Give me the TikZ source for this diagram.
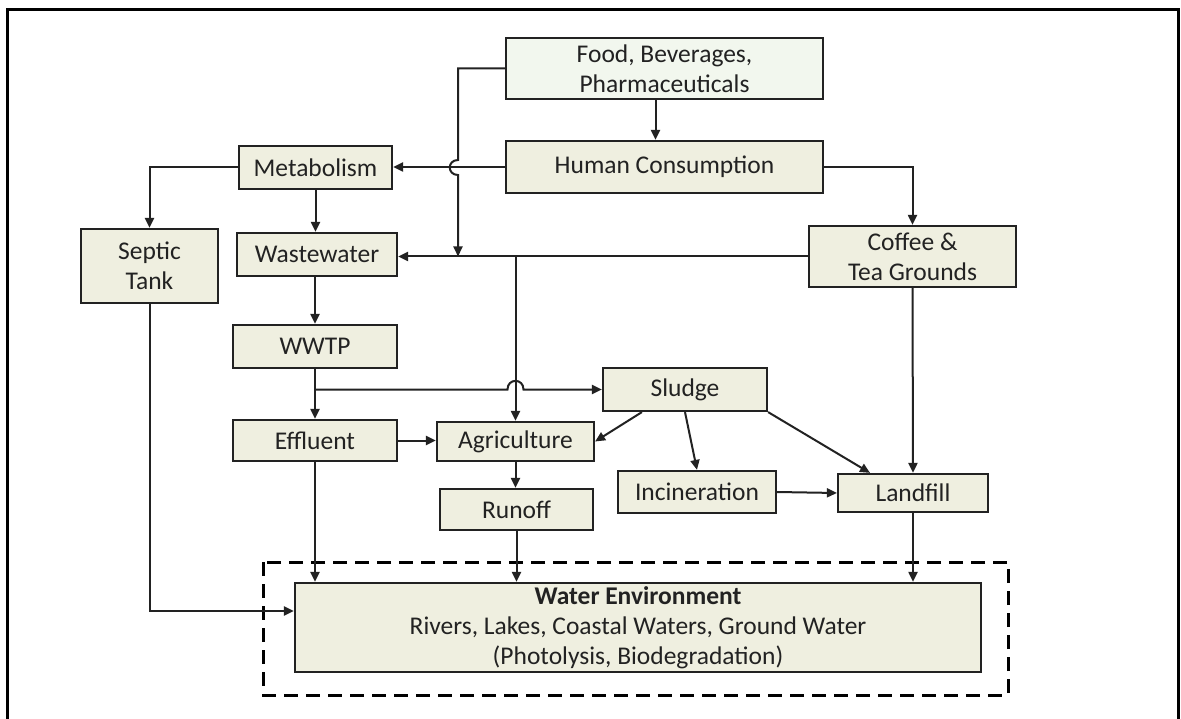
\documentclass[tikz,border=0pt]{standalone}
\usepackage{fontspec}
\setmainfont{Carlito}
\usetikzlibrary{arrows.meta}
\definecolor{boxfill}{HTML}{EFEFE0}
\definecolor{foodfill}{HTML}{F2F7EE}
\definecolor{ink}{HTML}{222222}
\begin{document}
\begin{tikzpicture}[
  x=1pt, y=-1pt,
  box/.style={draw=ink, fill=boxfill, line width=2.2pt, align=center, inner sep=0pt,
              text=ink, font=\fontsize{25.5pt}{30pt}\selectfont},
  link/.style={draw=ink, line width=2pt},
  >={Triangle[length=10pt,width=9pt]}
]
\useasboundingbox (0,0) rectangle (1181,719);
% outer frame
\draw[line width=3pt] (7.5,719) -- (7.5,9.5) -- (1178.5,9.5) -- (1178.5,719);

\node[box, fill=foodfill, minimum width=317pt, minimum height=61pt] (food) at (664.5,68.5) {Food, Beverages,\\Pharmaceuticals};
\node[box, minimum width=317pt, minimum height=52pt] (hc) at (664.5,167) {Human Consumption};
\node[box, minimum width=153pt, minimum height=43pt] (metab) at (315.5,167.5) {Metabolism};
\node[box, minimum width=137pt, minimum height=74pt] (septic) at (149.5,266) {Septic\\Tank};
\node[box, minimum width=160pt, minimum height=43pt] (ww) at (317,254.5) {Wastewater};
\node[box, minimum width=207pt, minimum height=61pt] (coffee) at (912.5,256.5) {Coffee \&\\Tea Grounds};
\node[box, minimum width=164pt, minimum height=43pt] (wwtp) at (315,346.5) {WWTP};
\node[box, minimum width=164pt, minimum height=41pt] (effl) at (315,440.5) {Effluent};
\node[box, minimum width=157pt, minimum height=39pt] (agri) at (515.5,441.5) {Agriculture};
\node[box, minimum width=153pt, minimum height=41pt] (runoff) at (516.5,509.5) {Runoff};
\node[box, minimum width=164pt, minimum height=43pt] (sludge) at (685,389.5) {Sludge};
\node[box, minimum width=158pt, minimum height=42pt] (incin) at (697,492) {Incineration};
\node[box, minimum width=150pt, minimum height=38pt] (landfill) at (913,493) {Landfill};
\node[box, minimum width=686pt, minimum height=89pt] (water) at (638,627.5)
  {\textbf{Water Environment}\\Rivers, Lakes, Coastal Waters, Ground Water\\(Photolysis, Biodegradation)};
\draw[line width=3pt, dash pattern=on 14pt off 8pt] (263,562) rectangle (1008,695);

% top part
\draw[link,->] ([xshift=-9pt]food.south) -- ([xshift=-9pt]hc.north);
\draw[link,->] (hc.west) -- (hc.west -| metab.east);
\draw[link,->] (metab.west) -| (septic.north);
\draw[link,->] (metab.south) -- (metab.south |- ww.north);
\draw[link,->] (hc.east) -| (coffee.north);
\coordinate (drop) at (458,256.5);
\draw[link,->] (food.west) -| (458,160) .. controls (447,160) and (447,175) .. (458,175) -- (drop);
\draw[link,->] (coffee.west) -- (coffee.west -| ww.east);
\coordinate (split) at (coffee.west -| agri.north);
\draw[link,->] (split) -- (agri.north);

% treatment
\draw[link,->] (ww.south -| wwtp.north) -- (wwtp.north);
\draw[link,->] (wwtp.south) -- (effl.north);
\coordinate (tee) at (wwtp.south |- sludge.west);
\draw[link,->] (tee) -- (507.5,389.5) .. controls (507.5,378) and (523.5,378) .. (523.5,389.5) -- (sludge.west);
\draw[link,->] (effl.east) -- (effl.east -| agri.west);
\draw[link,->] (agri.south) -- (agri.south |- runoff.north);
\draw[link,->] ([xshift=40pt]sludge.south west) -- (agri.east);
\draw[link,->] (sludge.south) -- (incin.north);
\draw[link,->] (sludge.south east) -- ([xshift=-43pt]landfill.north);
\draw[link,->] (incin.east) -- (landfill.west);
\draw[link,->] (coffee.south) -- (landfill.north);

% into the water
\draw[link,->] (effl.south) -- (effl.south |- water.north);
\draw[link,->] (runoff.south) -- (runoff.south |- water.north);
\draw[link,->] (landfill.south) -- (landfill.south |- water.north);
\draw[link,->] (septic.south) |- ([yshift=16.5pt]water.west);
\end{tikzpicture}
\end{document}
